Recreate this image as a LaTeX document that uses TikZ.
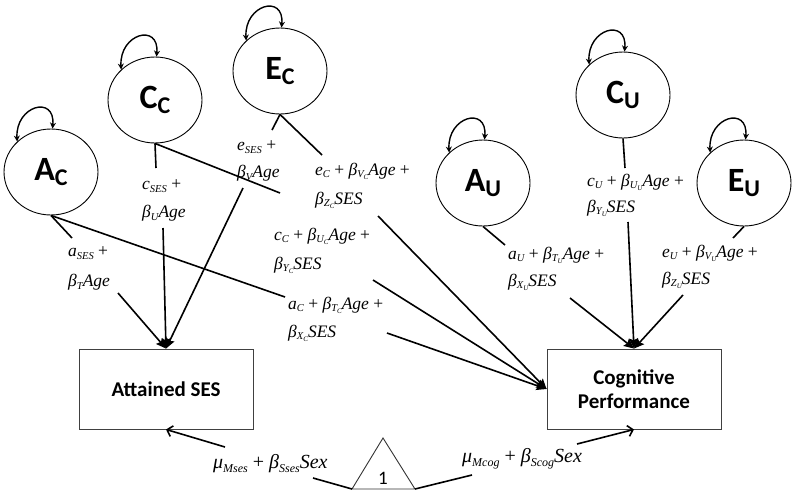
\documentclass[tikz,border=0pt]{standalone}
\usepackage{fontspec}
\setmainfont{Liberation Serif}
\newfontfamily\calb{Carlito}
\usetikzlibrary{arrows.meta,shapes.geometric}
\newcommand{\sbx}[1]{\raisebox{-0.35ex}{\fontsize{10.5}{10.5}\selectfont #1}}
\newcommand{\ssbx}[1]{\raisebox{-0.3ex}{\fontsize{7}{7}\selectfont #1}}
\newcommand{\msbx}[1]{\raisebox{-0.4ex}{\fontsize{12}{12}\selectfont #1}}
\newcommand{\latn}[2]{{\calb\bfseries\fontsize{34}{34}\selectfont #1\raisebox{-0.3ex}{\fontsize{24}{24}\selectfont #2}}}
\begin{document}
\begin{tikzpicture}[x=1pt,y=-1pt,
  latent/.style={ellipse,draw=black,line width=0.9pt,minimum width=94pt,minimum height=86pt,inner sep=0pt},
  obsbox/.style={rectangle,draw=black!75,line width=0.9pt,minimum width=174pt,minimum height=80pt,inner sep=0pt,align=center,font=\calb\bfseries\fontsize{21}{24}\selectfont},
  eqlbl/.style={anchor=west,inner sep=0pt,font=\fontsize{17.5}{17.5}\selectfont\itshape},
  mulbl/.style={anchor=west,inner sep=0pt,font=\fontsize{20}{20}\selectfont\itshape},
  conn/.style={line width=1.6pt,black},
  arr/.style={conn,-{Stealth[length=10pt,width=9pt,inset=1.5pt]}},
  barb/.style={conn,-{Straight Barb[length=5pt,width=11pt]}},
  selfloop/.style={line width=1.4pt,{Stealth[length=6pt,width=6pt]}-{Stealth[length=6pt,width=6pt]}}
]
\useasboundingbox (0,0) rectangle (800,496);

% latent variables
\node[latent] (AC) at (51,172) {\latn{A}{C}};
\node[latent] (CC) at (155,100) {\latn{C}{C}};
\node[latent] (EC) at (280,71) {\latn{E}{C}};
\node[latent] (AU) at (483,183) {\latn{A}{U}};
\node[latent] (CU) at (623,95) {\latn{C}{U}};
\node[latent] (EU) at (744,183) {\latn{E}{U}};

% self loops
\foreach \n in {AC,CC,EC,AU,CU,EU}{
  \draw[selfloop] (\n.138) .. controls +(-2,-36) and +(3,-34) .. (\n.88);
}

% observed boxes
\node[obsbox] (ses) at (166,389) {Attained SES};
\node[obsbox] (cog) at (634,389) {Cognitive\\Performance};

% triangle (constant)
\coordinate (tl) at (352,489);
\coordinate (tr) at (415,489);
\coordinate (tp) at (383,438);
\draw[line width=0.9pt,black!80] (tl) -- (tp) -- (tr) -- cycle;
\node[font=\calb\fontsize{19}{19}\selectfont,inner sep=0pt] (one) at (383,478) {1};

% labels
\node[eqlbl] (l1a) at (68,253) {a\sbx{SES} \textup{+}};
\node[eqlbl] (l1b) at (68,282) {β\sbx{T}Age};
\node[eqlbl] (l2a) at (142,186) {c\sbx{SES} \textup{+}};
\node[eqlbl] (l2b) at (142,213) {β\sbx{U}Age};
\node[eqlbl] (l3a) at (237,147) {e\sbx{SES} \textup{+}};
\node[eqlbl] (l3b) at (237,173) {β\sbx{V}Age};
\node[eqlbl] (l4a) at (315,171) {e\sbx{C} \textup{+} β\sbx{V\ssbx{C}}Age \textup{+}};
\node[eqlbl] (l4b) at (315,200) {β\sbx{Z\ssbx{C}}SES};
\node[eqlbl] (l5a) at (274,236) {c\sbx{C} \textup{+} β\sbx{U\ssbx{C}}Age \textup{+}};
\node[eqlbl] (l5b) at (274,265) {β\sbx{Y\ssbx{C}}SES};
\node[eqlbl] (l6a) at (288,305) {a\sbx{C} \textup{+} β\sbx{T\ssbx{C}}Age \textup{+}};
\node[eqlbl] (l6b) at (288,333) {β\sbx{X\ssbx{C}}SES};
\node[eqlbl] (l7a) at (508,255) {a\sbx{U} \textup{+} β\sbx{T\ssbx{U}}Age \textup{+}};
\node[eqlbl] (l7b) at (508,282) {β\sbx{X\ssbx{U}}SES};
\node[eqlbl] (l8a) at (587,182) {c\sbx{U} \textup{+} β\sbx{U\ssbx{U}}Age \textup{+}};
\node[eqlbl] (l8b) at (587,208) {β\sbx{Y\ssbx{U}}SES};
\node[eqlbl] (l9a) at (662,253) {e\sbx{U} \textup{+} β\sbx{V\ssbx{U}}Age \textup{+}};
\node[eqlbl] (l9b) at (662,280) {β\sbx{Z\ssbx{U}}SES};
\node[mulbl] (m1) at (213,464) {μ\msbx{Mses} \textup{+} β\msbx{Sses}Sex};
\node[mulbl] (m2) at (462,459) {μ\msbx{Mcog} \textup{+} β\msbx{Scog}Sex};

% segment break points
\coordinate (ac1) at (72,238);  \coordinate (ac2) at (118,293);
\coordinate (ac3) at (285,297); \coordinate (ac4) at (387,333);
\coordinate (cc1) at (156,168); \coordinate (cc2) at (163,228);
\coordinate (cc3) at (280,193); \coordinate (cc4) at (373,280);
\coordinate (ec1) at (272,130); \coordinate (ec2) at (243,188);
\coordinate (ec3) at (322,155); \coordinate (ec4) at (378,216);
\coordinate (au1) at (505,245); \coordinate (au2) at (570,298);
\coordinate (cu1) at (625,168); \coordinate (cu2) at (628,222);
\coordinate (eu1) at (733,238); \coordinate (eu2) at (683,295);
\coordinate (t1) at (313,478);  \coordinate (t2) at (225,447);
\coordinate (t3) at (472,475);  \coordinate (t4) at (577,444);

% connectors
\draw[conn] (AC.south) -- (ac1);  \draw[arr] (ac2) -- (ses.north);
\draw[conn] (AC.south) -- (ac3);  \draw[arr] (ac4) -- (cog.west);
\draw[conn] (CC.south) -- (cc1);  \draw[arr] (cc2) -- (ses.north);
\draw[conn] (CC.south) -- (cc3);  \draw[arr] (cc4) -- (cog.west);
\draw[conn] (EC.south) -- (ec1);  \draw[arr] (ec2) -- (ses.north);
\draw[conn] (EC.south) -- (ec3);  \draw[arr] (ec4) -- (cog.west);
\draw[conn] (AU.south) -- (au1);  \draw[arr] (au2) -- (cog.north);
\draw[conn] (CU.south) -- (cu1);  \draw[arr] (cu2) -- (cog.north);
\draw[conn] (EU.south) -- (eu1);  \draw[arr] (eu2) -- (cog.north);
\draw[conn] (tl) -- (t1);  \draw[barb] (t2) -- (ses.south);
\draw[conn] (tr) -- (t3);  \draw[barb] (t4) -- (cog.south);
\end{tikzpicture}
\end{document}
